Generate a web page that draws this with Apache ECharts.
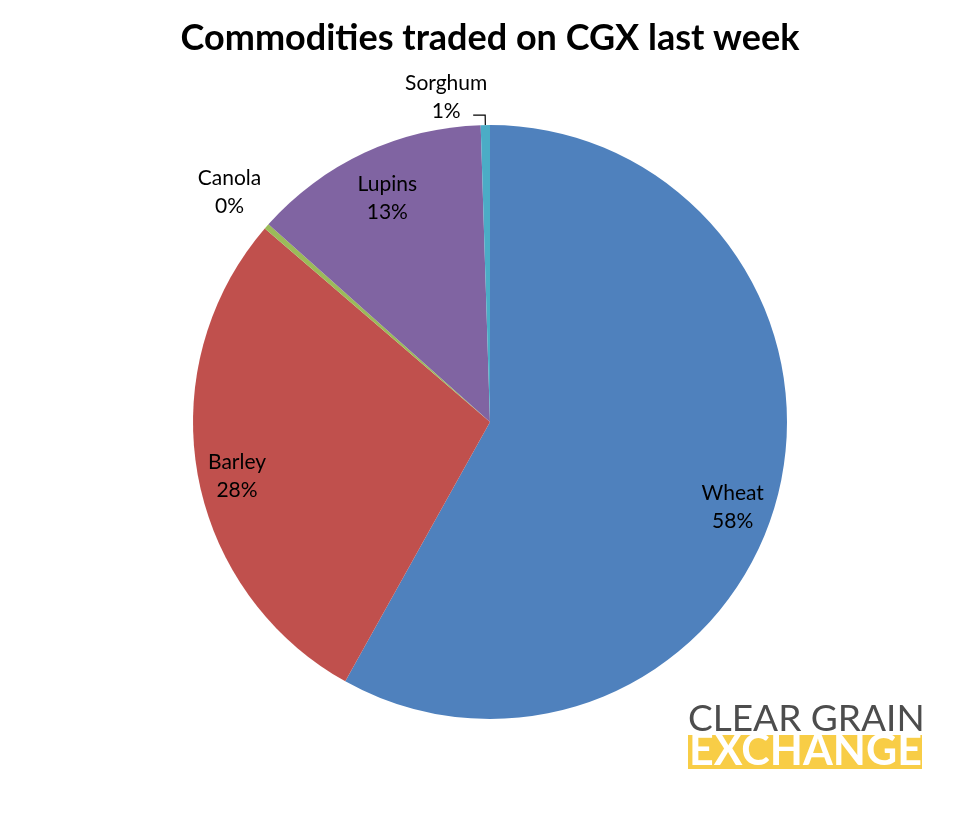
<!DOCTYPE html>
<html><head><meta charset="utf-8">
<script src="https://cdn.jsdelivr.net/npm/echarts@6/dist/echarts.min.js"></script>
<style>html,body{margin:0;padding:0;background:#fff}#c{width:980px;height:823px}</style>
</head><body><div id="c"></div>
<script>
const categories = ['Wheat', 'Barley', 'Canola', 'Lupins', 'Sorghum'];
const shares = [58.1, 28.2, 0.3, 12.9, 0.5];
const colors = ['#4F81BD', '#C0504D', '#9BBB59', '#8064A2', '#4BACC6'];
const titleText = 'Commodities traded on CGX last week';
const logoTop = 'CLEAR GRAIN';
const logoBottom = 'EXCHANGE';

const total = shares.reduce((a, b) => a + b, 0);
const pct = v => Math.round(v / total * 100) + '%';
const isSmall = v => v / total < 0.01;
const FONT = 'Lato';
const R = 297;
const CENTER = [490, 422];

const chart = echarts.init(document.getElementById('c'), null, {renderer: 'canvas'});

const baseData = categories.map((n, i) => ({name: n, value: shares[i]}));

const mainData = baseData.map((d, i) => {
  const small = isSmall(d.value);
  const item = {
    name: d.name, value: d.value,
    itemStyle: {color: colors[i]},
    label: {show: small},
    labelLine: {show: small && i === 4}
  };
  if (small && i !== 4) item.labelLine = {show: false, length: 52, length2: 0};
  return item;
});
const innerLabelData = baseData.map(d => ({
  name: d.name, value: d.value,
  label: {show: !isSmall(d.value)}
}));

const labelStyle = {
  fontFamily: FONT, fontSize: 21, color: '#000', lineHeight: 28,
  formatter: p => p.name + '\n' + pct(p.value)
};

chart.setOption({
  animation: false,
  backgroundColor: '#fff',
  title: {
    text: titleText, left: 'center', top: 15,
    textStyle: {fontFamily: FONT, fontWeight: 'bold', fontSize: 36, color: '#000'}
  },
  series: [
    {
      type: 'pie', center: CENTER, radius: [0, R], startAngle: 90, clockwise: true,
      avoidLabelOverlap: false,
      data: mainData,
      label: Object.assign({position: 'outside'}, labelStyle),
      labelLine: {length: 10, length2: 12, lineStyle: {color: '#000', width: 1.2}},
      labelLayout: p => {
        if (p.dataIndex === 4) return {align: 'center', dx: -22, dy: -18};
        if (p.dataIndex === 2) return {align: 'center', dx: 7};
        return {};
      },
      emphasis: {disabled: true}
    },
    {
      type: 'pie', center: CENTER, radius: [R * 0.71, R], startAngle: 90, clockwise: true,
      silent: true, avoidLabelOverlap: false,
      data: innerLabelData,
      itemStyle: {color: 'rgba(0,0,0,0)'},
      label: Object.assign({position: 'inside'}, labelStyle),
      labelLine: {show: false},
      labelLayout: p => {
        if (p.dataIndex === 0) return {dx: -6, dy: 21};
        if (p.dataIndex === 3) return {dx: 6, dy: 9};
        return {dy: 9};
      },
      emphasis: {disabled: true}
    }
  ],
  graphic: [
    {type: 'text', left: 688, top: 701,
     style: {text: logoTop, fontFamily: FONT, fontSize: 37, fill: '#4D4D4D', fontWeight: 'normal'}},
    {type: 'rect', left: 688, top: 735, shape: {width: 234, height: 34}, style: {fill: '#F8CD46'}},
    {type: 'text', left: 689, top: 730,
     style: {text: logoBottom, fontFamily: FONT, fontSize: 43, fill: '#fff', fontWeight: 'bold'}}
  ]
});
</script></body></html>
